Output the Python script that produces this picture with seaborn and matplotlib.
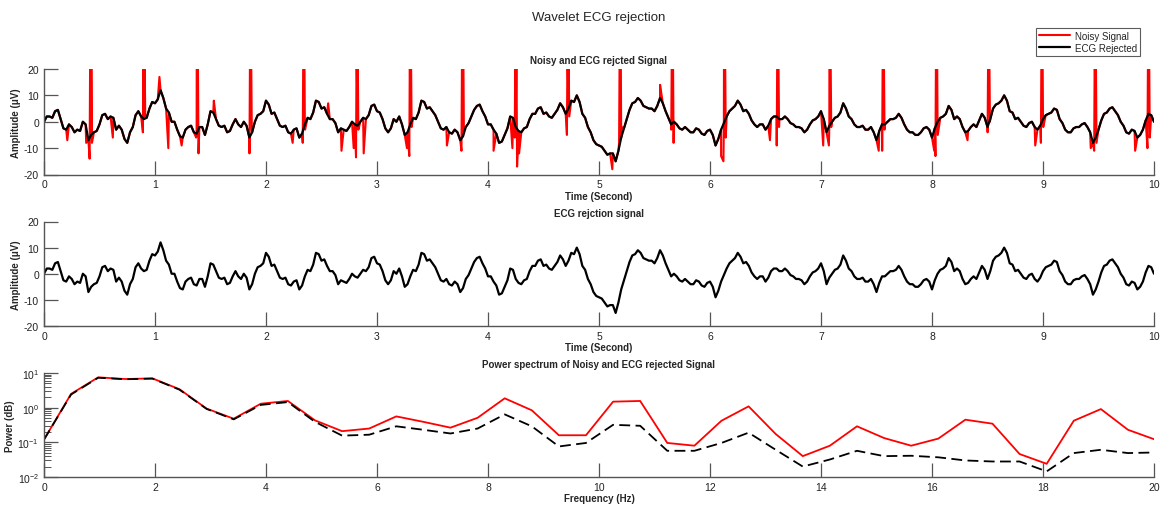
import numpy as np
import matplotlib
matplotlib.use("Agg")
import matplotlib.pyplot as plt
import seaborn as sns

# ---------------- data ----------------
fs_step = 0.025  # seconds between read samples
ecg_rejected = [
    0, 2, 2, 1.5, 4, 4.5, 1, -2.5, -3, -1, -2, -4, -3, -3.5, 0, -1, -7, -5, -4, -3.5,
    -1, 2.5, 3, 1, 2, 1.5, -3, -1.5, -3, -6.5, -8, -4, -2, 2.5, 4, 2, 1, 1.5, 5, 7.5,
    7, 8.5, 12, 9, 5, 3.5, 0, 0, -3, -5.5, -6, -3, -2, -1.5, -4, -4.5, -2, -2, -5, -1,
    4, 3.5, 1, -1.5, -2, -1.5, -4, -3.5, -1, 1, -1, -2, 0, -1.5, -6, -4, 0, 2.5, 3, 4,
    8, 6.5, 3, 3.5, 1, -1.5, -2, -1.5, -4, -4.5, -3, -2.5, -6, -4.5, -1, 1.5, 1, 3.5, 8, 7.5,
    5, 5.5, 3, 1, 1, -0.5, -4, -2.5, -3, -3.5, -2, 0, -1, -1.5, 0, 1.5, 1, 2.5, 6, 6.5,
    4, 3.5, 1, -2.5, -4, -2.5, 1, 0, 2, -1, -5, -4, -1, 1.5, 1, 3.5, 8, 7.5, 5, 5.5,
    4, 2.5, 0, -2.5, -3, -2, -4, -4.5, -3, -4, -7, -5.5, -2, -0.5, 2, 4.5, 6, 6.5, 4, 2,
    -1, -1, -3, -4.5, -8, -7.5, -5, -2.5, 2, 1.5, -2, -3.5, -4, -2.5, -2, 1, 3, 3, 5, 5.5,
    3, 3.5, 2, 1.5, 3, 4.5, 7, 5.5, 3, 5, 8, 7.5, 10, 7.5, 3, 1.5, -2, -4, -7, -8.5,
    -9, -9.5, -11, -12.5, -12, -12, -15, -11, -6, -2.5, 1, 4.5, 7, 7.5, 9, 8, 6, 5.5, 5, 5,
    4, 6, 9, 7, 4, 1.5, -1, 0, -1, -2.5, -3, -2, -3, -4, -4, -2.5, -3, -4.5, -5, -3.5,
    -3, -5, -9, -6.5, -3, -0.5, 2, 4, 5, 6, 8, 6.5, 4, 4.5, 3, 0.5, -1, -2, -1, -1,
    -3, -1.5, 1, 2, 2, 1, 1, 2, 1, -0.5, -1, -2, -2, -2.5, -4, -3, -1, 0.5, 1, 2,
    4, 1, -4, -1.5, 0, 1.5, 2, 3.5, 7, 5, 2, 1, -1, -2, -2, -1.5, -3, -3, -2, -4,
    -7, -3.5, -1, -1, 0, 1, 1, 1.5, 3, 1.5, -1, -3, -4, -4, -5, -5, -4, -2.5, -2, -3,
    -6, -2.5, 0, 1.5, 2, 3, 6, 4.5, 1, 2, 1, -2, -4, -3.5, -2, -1, -2, 0.5, 3, 1.5,
    -2, 1, 5, 6.5, 7, 8, 10, 8, 4, 3.5, 1, 1.5, 0, -1.5, -2, -0.5, 0, -2, -3, -1.5,
    1, 2.5, 3, 3.5, 5, 4.5, 1, -0.5, -3, -4, -4, -2.5, -2, -2, -1, -0.5, -2, -4, -8, -6,
    -3, 0.5, 3, 3.5, 5, 5.5, 4, 2.5, 0, -1.5, -4, -4.5, -3, -3.5, -6, -5, -3, 0.5, 3, 2.5,
    0,
]
time_s = np.round(np.arange(len(ecg_rejected)) * fs_step, 4)

# ECG R-peaks present only in the noisy signal
spike_t = [0.42, 0.90, 1.38, 1.86, 2.34, 2.82, 3.30, 3.77, 4.25, 4.72, 5.19,
           5.66, 6.13, 6.61, 7.08, 7.56, 8.04, 8.51, 8.99, 9.47, 9.95]
spike_pre = [-14, -4, -6, -12, -8, -13.5, -13, -11, -6, -5, -8,
             -3, -15, -9, -9, -11, -13, -4, -8, -11, -10]
spike_post = [-8, 2, -12, -3, -3, -3, -2, -3, -17, 2, -2,
              -8, -6, -2, -2, -3, -5, 0, -2, -8, -6]
spike_peak = [28] * len(spike_t)
extra_t = [0.21, 0.38, 0.62, 1.04, 1.12, 1.24, 1.53, 2.24, 2.56, 2.68, 2.79, 2.88,
           3.27, 3.63, 4.05, 4.22, 4.28, 5.12, 5.55, 6.10, 6.54, 7.02, 7.52,
           8.02, 8.32, 8.93, 9.43, 9.83]
extra_v = [-7, -8, -6, 17, -10, -9, 8, -8, 7, -11, -10, -12,
           -10, -9, -11, -10, -12, -18, 14, -13, -7, -9, -11,
           -11, -7, -9, -10, -11]

# power spectrum
freq_hz = np.arange(42) * 1000 / 2048
psd_noisy = [0.12, 2.5, 7.5, 6.7, 7.0, 3.4, 0.94, 0.48, 1.3, 1.56,
             0.43, 0.21, 0.25, 0.56, 0.39, 0.265, 0.51, 1.86, 0.84, 0.16,
             0.16, 1.49, 1.56, 0.096, 0.080, 0.42, 1.09, 0.174, 0.040, 0.080,
             0.29, 0.133, 0.080, 0.128, 0.45, 0.345, 0.046, 0.024, 0.42, 0.91,
             0.23, 0.12]
psd_rejected = [0.12, 2.4, 7.3, 6.6, 6.9, 3.3, 0.92, 0.46, 1.2, 1.45,
                0.39, 0.156, 0.166, 0.29, 0.23, 0.18, 0.25, 0.64, 0.29, 0.076,
                0.096, 0.32, 0.30, 0.057, 0.057, 0.096, 0.19, 0.061, 0.020, 0.032,
                0.057, 0.040, 0.041, 0.037, 0.030, 0.028, 0.028, 0.0145, 0.049, 0.061,
                0.049, 0.051]

# build noisy signal = rejected + spikes
st = np.array(spike_t)
red_t = np.concatenate([time_s, st - 0.009, st - 0.004, st + 0.006, st + 0.012, extra_t])
red_v = np.concatenate([ecg_rejected, spike_pre, spike_peak, spike_peak, spike_post, extra_v])
order = np.argsort(red_t, kind="stable")
red_t, red_v = red_t[order], red_v[order]

# ---------------- style ----------------
sns.set_style("ticks")
plt.rcParams["font.family"] = ["Liberation Sans", "DejaVu Sans"]
plt.rcParams["mathtext.fontset"] = "custom"
plt.rcParams["mathtext.rm"] = "Liberation Sans"
plt.rcParams["axes.unicode_minus"] = False
axcol = "#555555"
tickfs = 7.5
labfs = 7

W, H = 1163, 510
fig = plt.figure(figsize=(W / 100, H / 100), dpi=100)
left, right = 44, 1154

def mkax(top, bottom):
    return fig.add_axes([left / W, 1 - bottom / H, (right - left) / W, (bottom - top) / H])

ax1 = mkax(70, 175.5)
ax2 = mkax(222.5, 327)
ax3 = mkax(374, 478)

def style(ax):
    for s in ["top", "right"]:
        ax.spines[s].set_visible(False)
    for s in ["left", "bottom"]:
        ax.spines[s].set_color(axcol)
        ax.spines[s].set_linewidth(1.0)
    ax.tick_params(axis="both", which="major", direction="in", length=10, width=0.9,
                   colors=axcol, labelcolor="#222222", labelsize=tickfs,
                   bottom=True, left=True, top=False, right=False)
    ax.tick_params(axis="both", which="minor", direction="in", length=5, width=0.7,
                   colors=axcol, bottom=False, left=True)
    ax.set_facecolor("white")

sns.lineplot(x=red_t, y=red_v, ax=ax1, color="red", lw=1.5, sort=False, estimator=None,
             label="Noisy Signal")
sns.lineplot(x=time_s, y=ecg_rejected, ax=ax1, color="black", lw=1.6, sort=False,
             estimator=None, label="ECG Rejected")
sns.lineplot(x=time_s, y=ecg_rejected, ax=ax2, color="black", lw=1.6, sort=False, estimator=None)

for ax, ttl in [(ax1, "Noisy and ECG rejcted Signal"), (ax2, "ECG rejction signal")]:
    ax.set_xlim(0, 10)
    ax.set_ylim(-20, 20)
    ax.set_xticks(range(0, 11))
    ax.set_yticks([-20, -10, 0, 10, 20])
    ax.set_xlabel("Time (Second)", fontsize=labfs, fontweight="bold", labelpad=1)
    ax.set_ylabel("Amplitude (\u03bcV)", fontsize=labfs, fontweight="bold", labelpad=2)
    ax.set_title(ttl, fontsize=labfs, fontweight="bold", pad=4)
    style(ax)

handles, labels = ax1.get_legend_handles_labels()
ax1.get_legend().remove()

sns.lineplot(x=freq_hz, y=psd_noisy, ax=ax3, color="red", lw=1.3, sort=False, estimator=None)
sns.lineplot(x=freq_hz, y=psd_rejected, ax=ax3, color="black", lw=1.3, sort=False,
             estimator=None, linestyle=(0, (6, 3)))
ax3.set_yscale("log")
ax3.set_xlim(0, 20)
ax3.set_ylim(1e-2, 1e1)
ax3.set_xticks(range(0, 21, 2))
ax3.set_xlabel("Frequency (Hz)", fontsize=labfs, fontweight="bold", labelpad=1)
ax3.set_ylabel("Power (dB)", fontsize=labfs, fontweight="bold", labelpad=2)
ax3.set_title("Power spectrum of Noisy and ECG rejected Signal", fontsize=labfs,
              fontweight="bold", pad=4)
style(ax3)

fig.text((left + right) / 2 / W, 1 - 18 / H, "Wavelet ECG rejection", ha="center",
         va="center", fontsize=9.5)

leg = fig.legend(handles, labels, loc="upper right", bbox_to_anchor=(1145 / W, 1 - 24 / H),
                 fontsize=7, frameon=True, fancybox=False, borderpad=0.3, labelspacing=0.2,
                 handlelength=3.2, handletextpad=0.5)
leg.get_frame().set_edgecolor("#333333")
leg.get_frame().set_linewidth(0.8)

fig.savefig("out.png", dpi=100, facecolor="white")
